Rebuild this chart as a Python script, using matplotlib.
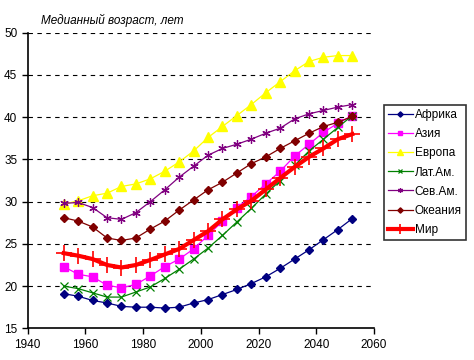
import matplotlib
matplotlib.use("Agg")
import matplotlib.pyplot as plt
import numpy as np

plt.rcParams['font.family'] = ['Liberation Sans', 'DejaVu Sans']

# midpoints of five-year periods 1950-55 ... 2050-55
years = [1952.5 + 5 * i for i in range(21)]

africa = [19.1, 18.8, 18.3, 18.0, 17.6, 17.5, 17.5, 17.4, 17.5, 18.0, 18.4,
          19.0, 19.6, 20.3, 21.1, 22.1, 23.2, 24.3, 25.5, 26.7, 28.0]
asia = [22.3, 21.4, 21.1, 20.1, 19.8, 20.2, 21.2, 22.3, 23.2, 24.4, 26.0,
        27.7, 29.3, 30.6, 32.1, 33.6, 35.4, 36.8, 38.2, 39.3, 40.2]
europe = [29.7, 30.1, 30.7, 31.0, 31.8, 32.1, 32.7, 33.6, 34.7, 36.0, 37.6,
          38.9, 40.2, 41.5, 42.9, 44.2, 45.5, 46.6, 47.1, 47.3, 47.3]
latam = [20.0, 19.7, 19.2, 18.7, 18.7, 19.3, 19.9, 20.9, 22.0, 23.2, 24.5,
         26.0, 27.6, 29.2, 30.9, 32.5, 34.3, 36.0, 37.4, 38.8, 40.2]
nam = [29.8, 29.9, 29.3, 28.1, 27.9, 28.7, 30.0, 31.4, 32.9, 34.2, 35.5,
       36.3, 36.8, 37.4, 38.1, 38.7, 39.8, 40.4, 40.8, 41.2, 41.5]
oceania = [28.1, 27.7, 27.0, 25.7, 25.4, 25.7, 26.75, 27.7, 29.0, 30.2, 31.4,
           32.3, 33.4, 34.5, 35.3, 36.3, 37.2, 38.1, 38.9, 39.4, 40.1]
world = [23.9, 23.6, 23.2, 22.5, 22.2, 22.5, 23.1, 23.75, 24.4, 25.45, 26.5,
         27.9, 29.1, 30.1, 31.45, 32.8, 34.1, 35.3, 36.3, 37.4, 38.0]

labels = ["Африка", "Азия", "Европа", "Лат.Ам.", "Сев.Ам.", "Океания", "Мир"]

fig = plt.figure(figsize=(4.74, 3.6), dpi=100)
ax = fig.add_axes([0.0584, 0.088, 0.7306, 0.821])

for y in [20, 25, 30, 35, 40, 45, 50]:
    ax.axhline(y, color='black', lw=0.8, dashes=(4, 4), zorder=0)

ax.plot(years, africa, color='#000080', lw=0.9, marker='D', ms=4.5, label=labels[0])
ax.plot(years, asia, color='#FF00FF', lw=0.9, marker='s', ms=5.5, label=labels[1])
ax.plot(years, europe, color='#FFFF00', lw=0.9, marker='^', ms=6.5, label=labels[2])
ax.plot(years, latam, color='#008000', lw=0.9, marker='x', ms=6, mew=0.9, label=labels[3])
ax.plot(years, nam, color='#800080', lw=0.9, marker=(6, 2, 0), ms=6, mew=0.9, label=labels[4])
ax.plot(years, oceania, color='#800000', lw=0.9, marker='D', ms=4.5, label=labels[5])
ax.plot(years, world, color='#FF0000', lw=3, marker='+', ms=11, mew=1.2, label=labels[6])

ax.set_xlim(1940, 2060)
ax.set_ylim(15, 50)
ax.set_xticks(np.arange(1940, 2061, 20))
ax.set_yticks(np.arange(15, 51, 5))
ax.tick_params(direction='out', length=4, width=1, labelsize=8.5, colors='black')
ax.spines['top'].set_visible(False)
ax.spines['right'].set_visible(False)
ax.spines['left'].set_linewidth(1.2)
ax.spines['bottom'].set_linewidth(1.2)

fig.text(0.087, 1 - 20.5 / 360, "Медианный возраст, лет", fontsize=8.5,
         style='italic', va='center', ha='left')

leg = fig.legend(loc='upper left', bbox_to_anchor=(0.81, 0.708),
                 borderaxespad=0, fontsize=8.5, frameon=True, fancybox=False,
                 edgecolor='black', handlelength=2.1, handletextpad=0.15,
                 labelspacing=0.6, borderpad=0.35, markerscale=0.6)
leg.get_frame().set_linewidth(1.2)

fig.savefig("out.png", dpi=100)
